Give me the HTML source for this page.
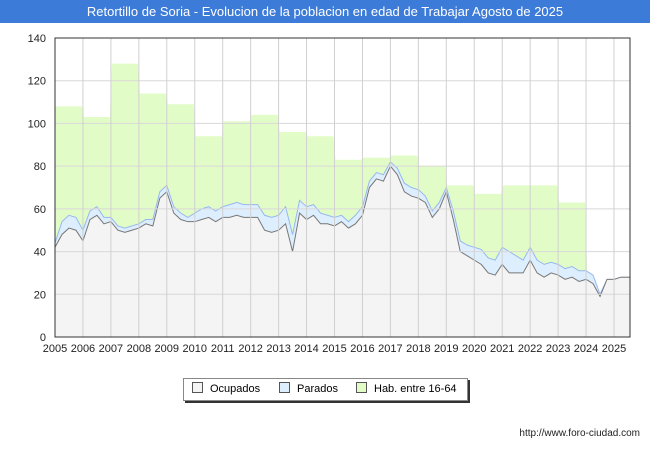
<!DOCTYPE html>
<html><head><meta charset="utf-8"><style>
body{margin:0;width:650px;height:450px;background:#fff;font-family:"Liberation Sans",sans-serif;overflow:hidden}
</style></head><body>
<div style="position:absolute;left:0;top:0;width:650px;height:23px;background:#3d7bd8;color:#fff;font-size:13px;text-align:center;line-height:23px">Retortillo de Soria - Evolucion de la poblacion en edad de Trabajar Agosto de 2025</div>
<svg id="c" width="650" height="450" style="position:absolute;left:0;top:0"></svg>
<script>
const years=[2005,2006,2007,2008,2009,2010,2011,2012,2013,2014,2015,2016,2017,2018,2019,2020,2021,2022,2023,2024,2025];
const hab=[108,103,128,114,109,94,101,104,96,94,83,84,85,80,71,67,71,71,63];
const ocupados=[42,48,51,50,45,55,57,53,54,50,49,50,51,53,52,65,68,58,55,54,54,55,56,54,56,56,57,56,56,56,50,49,50,53,40,58,55,57,53,53,52,54,51,53,57,70,74,73,80,76,68,66,65,63,56,60,68,55,40,38,36,34,30,29,34,30,30,30,36,30,28,30,29,27,28,26,27,25,19,27,27,28,28];
const parados=[2,6,6,6,5,4,4,3,2,2,2,2,2,2,3,3,3,3,3,2,4,5,5,5,5,6,6,6,6,6,7,7,7,8,8,6,6,5,5,4,4,3,3,4,4,3,3,3,2,3,4,4,4,3,3,3,2,4,5,5,6,7,7,7,8,10,8,6,6,6,6,5,5,5,5,5,4,4,1,0,0,0,0];
const yTicks=[0,20,40,60,80,100,120,140];
const L=55,R=630,T=38,B=337;
const X=t=>L+(t-2005)*27.95, Y=v=>B-v*(B-T)/140;
const s=document.getElementById('c');const NS='http://www.w3.org/2000/svg';
function el(tag,a,p){const e=document.createElementNS(NS,tag);for(const k in a)e.setAttribute(k,a[k]);(p||s).appendChild(e);return e;}
const bg=el('rect',{x:L,y:T,width:R-L,height:B-T,fill:'#fff'});

const tEnd=2025.58;
const tt=ocupados.map((_,i)=>2005+i*0.25);tt[tt.length-1]=Math.min(tt[tt.length-1],tEnd);
const tot=ocupados.map((v,i)=>v+parados[i]);
// hab steps
let hp=`M${X(2005)},${Y(0)}`;
hab.forEach((h,i)=>{hp+=` L${X(years[i])+(i?1:0)},${Y(h)} L${X(years[i]+1)-1},${Y(h)}`;});
hp+=` L${X(2024)+1},${Y(tot[76])} L${X(2024)+1},${Y(0)} Z`;
const ha=el('path',{d:hp,fill:'#e2fcc8',stroke:'none'});

let hl=hp.replace(/ L[^ ]+ Z$/,'').replace(/^M[^ ]+ /,'M');
const hln=el('path',{d:hl,fill:'none',stroke:'#6cbf8a','stroke-width':1});

function line(arr){return arr.map((v,i)=>`${i?'L':'M'}${X(tt[i])},${Y(v)}`).join(' ')+` L${X(tEnd)},${Y(arr[arr.length-1])}`;}
const pa=el('path',{d:line(tot)+` L${X(tEnd)},${Y(0)} L${X(2005)},${Y(0)} Z`,fill:'#ddeeff'});

const pl=el('path',{d:line(tot),fill:'none',stroke:'#96b8ee','stroke-width':1});

const oa=el('path',{d:line(ocupados)+` L${X(tEnd)},${Y(0)} L${X(2005)},${Y(0)} Z`,fill:'#f4f4f4'});

const ol=el('path',{d:line(ocupados),fill:'none',stroke:'#777','stroke-width':1});

yTicks.forEach(v=>{const g=el('line',{x1:L,x2:R,y1:Y(v),y2:Y(v),stroke:'#d8d8d8','stroke-width':1});

const t=el('text',{x:L-9,y:Y(v)+4,'text-anchor':'end','font-size':11,fill:'#222'});t.textContent=v;
});
years.forEach(y=>{const g=el('line',{x1:X(y),x2:X(y),y1:T,y2:B,stroke:'#d0d0d0','stroke-width':1});

const t=el('text',{x:X(y),y:B+15,'text-anchor':'middle','font-size':11,fill:'#222'});t.textContent=y;
});
const fr=el('rect',{x:L,y:T,width:R-L,height:B-T,fill:'none',stroke:'#333','stroke-width':1});

</script>
<div style="position:absolute;left:183px;top:378px;width:283px;height:21px;border:1px solid #888;box-shadow:2px 2px 0 #333;background:#fff;font-size:11px;line-height:21px">
<span style="position:absolute;left:8px"><i style="display:inline-block;width:9px;height:9px;border:1px solid #555;background:#f4f4f4;vertical-align:-1px;margin-right:7px"></i>Ocupados</span>
<span style="position:absolute;left:95px"><i style="display:inline-block;width:9px;height:9px;border:1px solid #555;background:#ddeeff;vertical-align:-1px;margin-right:7px"></i>Parados</span>
<span style="position:absolute;left:172px"><i style="display:inline-block;width:9px;height:9px;border:1px solid #555;background:#e2fcc8;vertical-align:-1px;margin-right:7px"></i>Hab. entre 16-64</span>
</div>
<div style="position:absolute;right:10px;top:428px;font-size:10px;color:#222">http://www.foro-ciudad.com</div>
</body></html>
